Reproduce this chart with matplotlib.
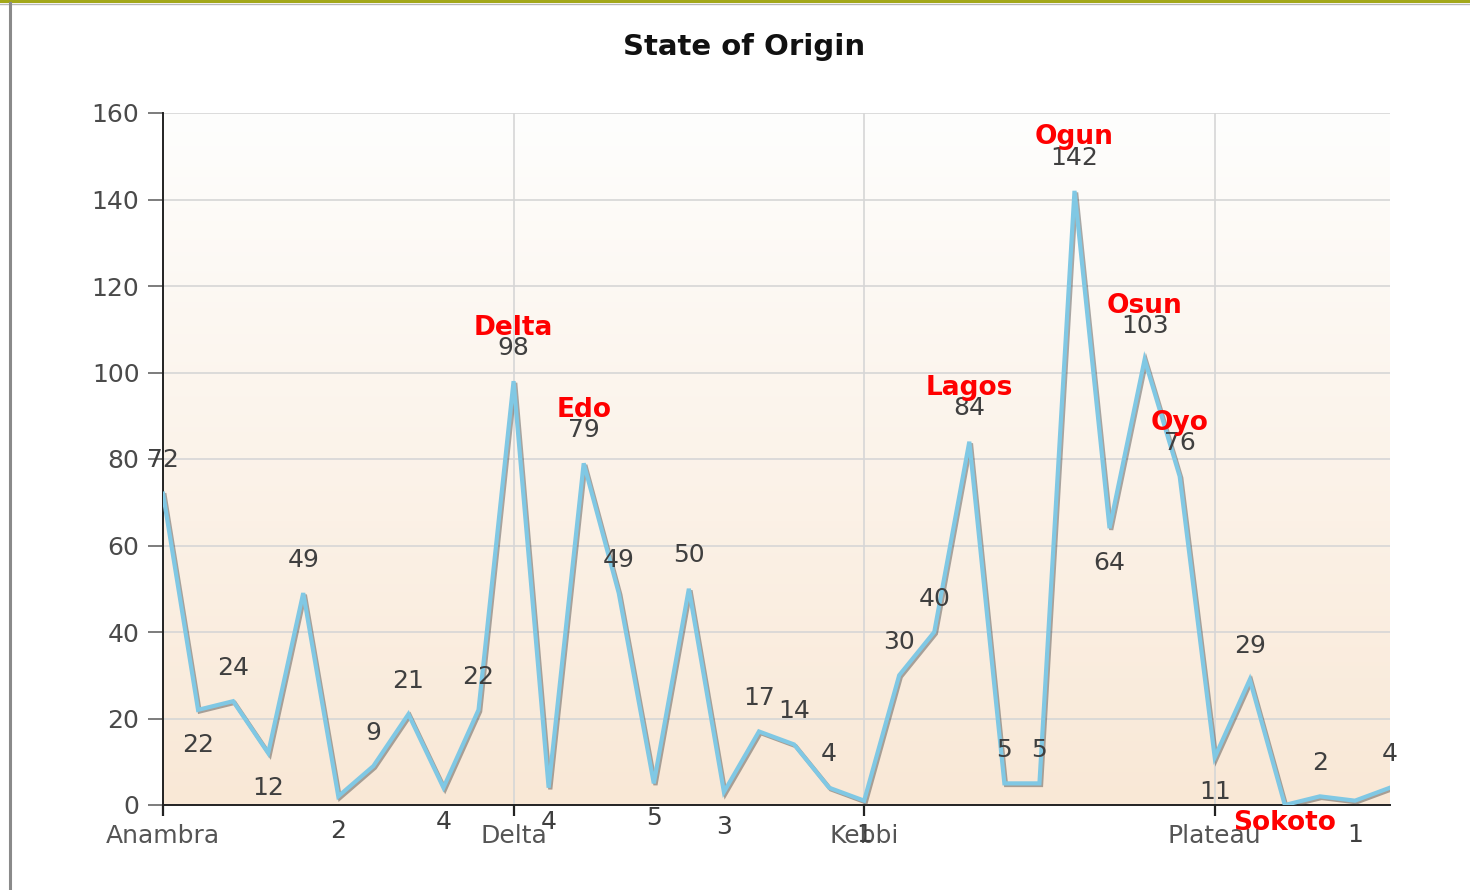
import numpy as np
import matplotlib.pyplot as plt
import matplotlib.patheffects as pe
from matplotlib.colors import LinearSegmentedColormap
from matplotlib.lines import Line2D
from matplotlib.patches import Rectangle

plt.rcParams['font.family'] = ['DejaVu Sans']

# ~~~~~~~~~~~~~~~~~~~~~~~~~~~~~~~~ Data ~~~~~~~~~~~~~~~~~~~~~~~~~~~~~~~~ #
states = ['Anambra', 'Abia', 'Adamawa', 'Akwa Ibom', 'Bauchi', 'Bayelsa',
          'Benue', 'Borno', 'Cross River', 'Ebonyi South', 'Delta', 'Ebonyi',
          'Edo', 'Ekiti', 'Enugu', 'FCT', 'Gombe', 'Imo', 'Kaduna', 'Kano',
          'Kebbi', 'Kogi', 'Kwara', 'Lagos', 'Nasarawa', 'Niger', 'Ogun',
          'Ondo', 'Osun', 'Oyo', 'Plateau', 'Rivers', 'Sokoto', 'Taraba',
          'Yobe', 'Zamfara']
counts = [72, 22, 24, 12, 49, 2, 9, 21, 4, 22,
          98, 4, 79, 49, 5, 50, 3, 17, 14, 4,
          1, 30, 40, 84, 5, 5, 142, 64, 103, 76,
          11, 29, 0, 2, 1, 4]
tick_states = ['Anambra', 'Delta', 'Kebbi', 'Plateau']
highlight = ['Delta', 'Edo', 'Lagos', 'Ogun', 'Osun', 'Oyo', 'Sokoto']
y_ticks = [0, 20, 40, 60, 80, 100, 120, 140, 160]

# ~~~~~~~~~~~~~~~~~~~~~~~~~~~~~~~ Figure ~~~~~~~~~~~~~~~~~~~~~~~~~~~~~~~ #
fig = plt.figure(figsize=(14.7, 8.9), dpi=100)
fig.patch.set_facecolor('white')

# page borders (olive top line, grey left line)
fig.add_artist(Rectangle((0, 1 - 3 / 890), 1, 3 / 890, transform=fig.transFigure,
                         color='#a3a81a', lw=0))
fig.add_artist(Line2D([0, 1], [1 - 4 / 890] * 2, transform=fig.transFigure,
                      color='#b8b8b8', lw=1))
fig.add_artist(Line2D([10 / 1470] * 2, [0, 1 - 3 / 890], transform=fig.transFigure,
                      color='#8a8a8a', lw=2.2))

ax = fig.add_axes([163 / 1470, 1 - 805 / 890, (1390 - 163) / 1470, (805 - 113) / 890])

x = np.arange(len(states))
ax.set_xlim(0, len(states) - 1)
ax.set_ylim(0, 160)

# gradient background
cmap = LinearSegmentedColormap.from_list('bg', ['#fefefd', '#f9e8d6'])
ax.imshow(np.linspace(0, 1, 256).reshape(-1, 1), cmap=cmap, aspect='auto',
          extent=[0, len(states) - 1, 0, 160], zorder=0)

ax.set_yticks(y_ticks)
ax.set_xticks([states.index(s) for s in tick_states])
ax.set_xticklabels(tick_states)
ax.grid(True, color='#d6d6d6', lw=1.2, zorder=1)
ax.set_axisbelow(True)

for side in ['top', 'right']:
    ax.spines[side].set_visible(False)
for side in ['left', 'bottom']:
    ax.spines[side].set_color('#222222')
    ax.spines[side].set_linewidth(1.4)
    ax.spines[side].set_zorder(3)

ax.tick_params(axis='y', length=11, width=1.2, color='#666666', pad=6,
               labelsize=18, labelcolor='#4a4a4a')
ax.tick_params(axis='x', length=8, width=1.6, color='#222222', pad=6,
               labelsize=18, labelcolor='#555555')

ax.plot(x, counts, color='#80c8e4', lw=3, zorder=4, solid_joinstyle='miter',
        path_effects=[pe.SimpleLineShadow(offset=(1.2, -1.2), shadow_color='#444444',
                                          alpha=0.45),
                      pe.Normal()])

# value labels (below at local minima, above elsewhere)
for i, v in enumerate(counts):
    left = counts[i - 1] if i > 0 else None
    right = counts[i + 1] if i < len(counts) - 1 else None
    below = left is not None and right is not None and v < left and v < right
    if v != 0:
        ax.annotate(str(v), (i, v), xytext=(0, -25 if below else 24),
                    textcoords='offset points', ha='center', va='center',
                    fontsize=18, color='#3f3f3f', zorder=6, annotation_clip=False)
    if states[i] in highlight:
        ax.annotate(states[i], (i, v), xytext=(0, -13 if below else 38.5),
                    textcoords='offset points', ha='center', va='center',
                    fontsize=19, fontweight='bold', color='#ff0000', zorder=7,
                    annotation_clip=False)

fig.text(744 / 1470, 1 - 47 / 890, 'State of Origin', ha='center', va='center',
         fontsize=21, fontweight='bold', color='#111111')

fig.savefig('out.png', dpi=100)
